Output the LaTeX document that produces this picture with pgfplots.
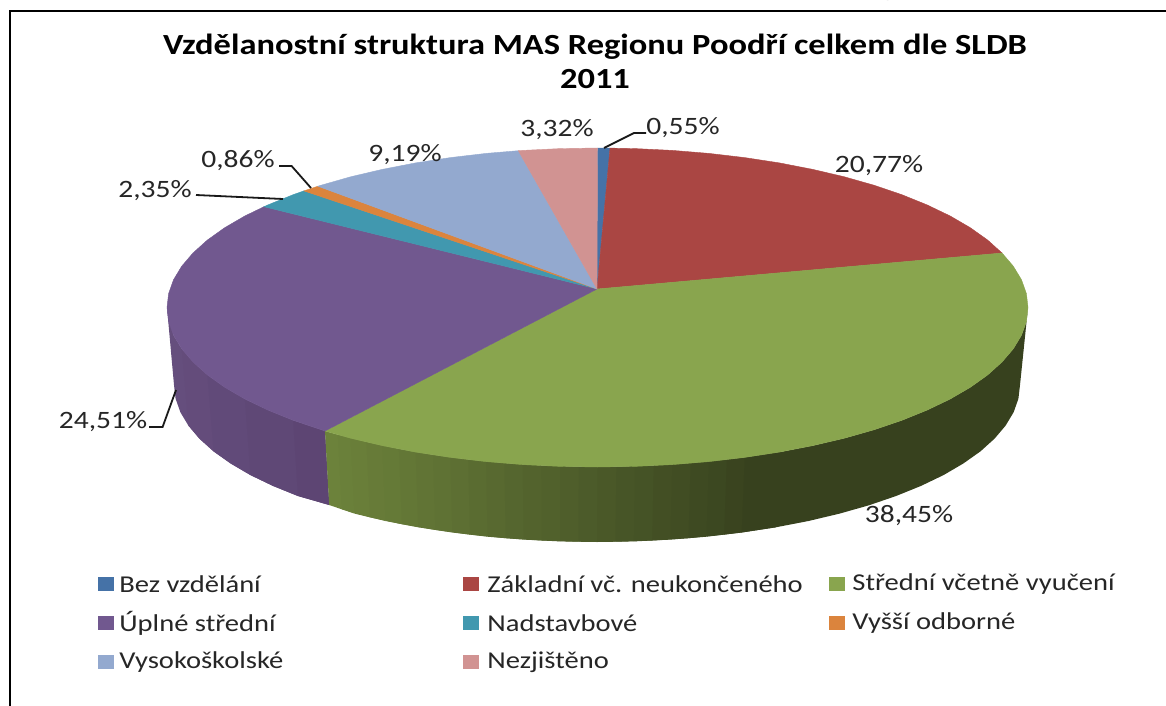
\documentclass[border=0pt]{standalone}
\usepackage{pgfplots}
\usepackage{fontspec}
\setmainfont[FakeStretch=1.18]{Carlito}
\pgfplotsset{compat=1.18}
\definecolor{cA}{HTML}{4572A7}
\definecolor{cB}{HTML}{AA4643}
\definecolor{cC}{HTML}{89A54E}
\definecolor{cD}{HTML}{71588F}
\definecolor{cE}{HTML}{4198AF}
\definecolor{cF}{HTML}{DB843D}
\definecolor{cG}{HTML}{93A9CF}
\definecolor{cH}{HTML}{D19392}
\definecolor{gA}{HTML}{6C823B}
\definecolor{gB}{HTML}{37411E}
\definecolor{pA}{HTML}{654E7D}
\definecolor{pB}{HTML}{5B4471}
\pgfplotsset{sl/.style={fill=#1,draw=#1,line width=0.2pt,mark=none,sharp plot,forget plot},
  st/.style={fill=#1,draw=none,mark=none,sharp plot,forget plot},
  ln/.style={draw=black!90,line width=0.9pt,mark=none,sharp plot,forget plot}}
\begin{document}
\begin{tikzpicture}
\path[use as bounding box] (0,0) rectangle (583pt,353pt);
\clip (0,0) rectangle (583pt,353pt);
\begin{axis}[scale only axis,width=583pt,height=353pt,at={(0,0)},anchor=south west,xmin=0,xmax=1166,ymin=0,ymax=706,y dir=reverse,hide axis,enlargelimits=false]
% side: purple
\addplot[st=pA] coordinates {(167.0,307.5)(173.5,335.2)(181.7,348.8)(193.0,362.0)(207.3,374.9)(213.6,451.4)(199.5,438.7)(188.4,425.6)(180.4,412.3)(175.6,398.7)(174.0,385.0)} -- cycle;
\addplot[st=pA!85!pB] coordinates {(181.7,348.8)(193.0,362.0)(207.3,374.9)(224.7,387.3)(244.8,399.0)(250.5,475.1)(230.7,463.5)(213.6,451.4)(199.5,438.7)(188.4,425.6)} -- cycle;
\addplot[st=pA!65!pB] coordinates {(207.3,374.9)(224.7,387.3)(244.8,399.0)(267.7,410.0)(293.1,420.3)(297.9,496.0)(273.0,485.9)(250.5,475.1)(230.7,463.5)(213.6,451.4)} -- cycle;
\addplot[st=pA!40!pB] coordinates {(244.8,399.0)(267.7,410.0)(293.1,420.3)(325.0,431.0)(329.2,505.0)(297.9,496.0)(273.0,485.9)(250.5,475.1)} -- cycle;
\addplot[st=pA!15!pB] coordinates {(293.1,420.3)(325.0,431.0)(329.2,505.0)(297.9,496.0)} -- cycle;
% side: green
\addplot[st=gA] coordinates {(325.0,431.0)(350.6,438.2)(354.4,513.6)(329.2,505.0)} -- cycle;
\addplot[st=gA!97!gB] coordinates {(337.8,434.6)(366.4,441.9)(370.0,517.3)(341.8,509.3)} -- cycle;
\addplot[st=gA!94!gB] coordinates {(350.6,438.2)(382.2,445.6)(385.5,521.0)(354.4,513.6)} -- cycle;
\addplot[st=gA!90!gB] coordinates {(366.4,441.9)(398.9,448.9)(401.9,524.2)(370.0,517.3)} -- cycle;
\addplot[st=gA!87!gB] coordinates {(382.2,445.6)(415.6,452.1)(418.2,527.3)(385.5,521.0)} -- cycle;
\addplot[st=gA!83!gB] coordinates {(398.9,448.9)(433.0,454.8)(435.3,529.9)(401.9,524.2)} -- cycle;
\addplot[st=gA!79!gB] coordinates {(415.6,452.1)(450.3,457.4)(452.3,532.5)(418.2,527.3)} -- cycle;
\addplot[st=gA!75!gB] coordinates {(433.0,454.8)(468.2,459.5)(469.9,534.6)(435.3,529.9)} -- cycle;
\addplot[st=gA!71!gB] coordinates {(450.3,457.4)(486.1,461.6)(487.5,536.7)(452.3,532.5)} -- cycle;
\addplot[st=gA!66!gB] coordinates {(468.2,459.5)(504.4,463.1)(505.6,538.2)(469.9,534.6)} -- cycle;
\addplot[st=gA!62!gB] coordinates {(486.1,461.6)(522.7,464.6)(523.6,539.6)(487.5,536.7)} -- cycle;
\addplot[st=gA!57!gB] coordinates {(504.4,463.1)(541.4,465.5)(541.9,540.5)(505.6,538.2)} -- cycle;
\addplot[st=gA!53!gB] coordinates {(522.7,464.6)(560.0,466.4)(560.1,541.4)(523.6,539.6)} -- cycle;
\addplot[st=gA!49!gB] coordinates {(541.4,465.5)(578.8,466.7)(578.6,541.7)(541.9,540.5)} -- cycle;
\addplot[st=gA!45!gB] coordinates {(560.0,466.4)(597.5,467.0)(597.0,542.0)(560.1,541.4)} -- cycle;
\addplot[st=gA!40!gB] coordinates {(578.8,466.7)(616.3,466.7)(615.5,541.7)(578.6,541.7)} -- cycle;
\addplot[st=gA!36!gB] coordinates {(597.5,467.0)(635.0,466.4)(633.9,541.4)(597.0,542.0)} -- cycle;
\addplot[st=gA!31!gB] coordinates {(616.3,466.7)(653.7,465.5)(652.2,540.5)(615.5,541.7)} -- cycle;
\addplot[st=gA!27!gB] coordinates {(635.0,466.4)(672.3,464.6)(670.4,539.6)(633.9,541.4)} -- cycle;
\addplot[st=gA!22!gB] coordinates {(653.7,465.5)(690.6,463.1)(688.5,538.2)(652.2,540.5)} -- cycle;
\addplot[st=gA!18!gB] coordinates {(672.3,464.6)(708.9,461.6)(706.5,536.7)(670.4,539.6)} -- cycle;
\addplot[st=gA!14!gB] coordinates {(690.6,463.1)(726.8,459.5)(724.1,534.6)(688.5,538.2)} -- cycle;
\addplot[st=gA!10!gB] coordinates {(708.9,461.6)(744.7,457.4)(741.7,532.5)(706.5,536.7)} -- cycle;
\addplot[st=gA!5!gB] coordinates {(726.8,459.5)(744.7,457.4)(779.4,452.1)(775.8,527.3)(741.7,532.5)(724.1,534.6)} -- cycle;
\addplot[st=gB] coordinates {(744.7,457.4)(779.4,452.1)(812.8,445.6)(844.4,438.2)(874.2,429.7)(901.9,420.3)(927.3,410.0)(950.2,399.0)(970.3,387.3)(987.7,374.9)(1002.0,362.0)(1013.3,348.8)(1021.5,335.2)(1026.4,321.4)(1028.0,307.5)(1020.0,385.0)(1018.4,398.7)(1013.6,412.3)(1005.6,425.6)(994.5,438.7)(980.4,451.4)(963.3,463.5)(943.5,475.1)(921.0,485.9)(896.1,496.0)(868.9,505.3)(839.6,513.6)(808.5,521.0)(775.8,527.3)(741.7,532.5)} -- cycle;
% top surface
\addplot[sl=cA] coordinates {(597,289)(597.5,148.0)(610.0,148.1)} -- cycle;
\addplot[sl=cB] coordinates {(597,289)(610.0,148.1)(635.0,148.6)(672.3,150.4)(708.9,153.4)(744.7,157.6)(779.4,162.9)(812.8,169.4)(844.4,176.8)(874.2,185.3)(901.9,194.7)(927.3,205.0)(950.2,216.0)(970.3,227.7)(987.7,240.1)(1002.0,253.0)} -- cycle;
\addplot[sl=cC] coordinates {(597,289)(1002.0,253.0)(1013.3,266.2)(1021.5,279.8)(1026.4,293.6)(1028.0,307.5)(1026.4,321.4)(1021.5,335.2)(1013.3,348.8)(1002.0,362.0)(987.7,374.9)(970.3,387.3)(950.2,399.0)(927.3,410.0)(901.9,420.3)(874.2,429.7)(844.4,438.2)(812.8,445.6)(779.4,452.1)(744.7,457.4)(708.9,461.6)(672.3,464.6)(635.0,466.4)(597.5,467.0)(560.0,466.4)(522.7,464.6)(486.1,461.6)(450.3,457.4)(415.6,452.1)(382.2,445.6)(350.6,438.2)(325.0,431.0)} -- cycle;
\addplot[sl=cD] coordinates {(597,289)(325.0,431.0)(293.1,420.3)(267.7,410.0)(244.8,399.0)(224.7,387.3)(207.3,374.9)(193.0,362.0)(181.7,348.8)(173.5,335.2)(168.6,321.4)(167.0,307.5)(168.6,293.6)(173.5,279.8)(181.7,266.2)(193.0,253.0)(207.3,240.1)(224.7,227.7)(244.8,216.0)(264.0,206.7)} -- cycle;
\addplot[sl=cE] coordinates {(597,289)(264.0,206.7)(267.7,205.0)(293.1,194.7)(303.9,190.9)} -- cycle;
\addplot[sl=cF] coordinates {(597,289)(303.9,190.9)(317.9,186.2)} -- cycle;
\addplot[sl=cG] coordinates {(597,289)(317.9,186.2)(320.8,185.3)(350.6,176.8)(382.2,169.4)(415.6,162.9)(450.3,157.6)(486.1,153.4)(518.3,150.7)} -- cycle;
\addplot[sl=cH] coordinates {(597,289)(518.3,150.7)(522.7,150.4)(560.0,148.6)(597.5,148.0)} -- cycle;
% frame
\addplot[draw=black,line width=1pt,mark=none,sharp plot,forget plot] coordinates {(9.5,706)(9.5,11)(1166,11)};
% leader lines
\addplot[ln] coordinates {(604,148)(634,133)(646,133)};
\addplot[ln] coordinates {(311,188)(291.6,166)(279,166)};
\addplot[ln] coordinates {(283,199)(196,195)};
\addplot[ln] coordinates {(176,390)(162.6,427)(149,427)};
% legend swatches
\addplot[sl=cA] coordinates {(98,577)(113,577)(113,590)(98,590)} -- cycle;
\addplot[sl=cB] coordinates {(463,577)(478,577)(478,590)(463,590)} -- cycle;
\addplot[sl=cC] coordinates {(829,577)(844,577)(844,590)(829,590)} -- cycle;
\addplot[sl=cD] coordinates {(98,616)(113,616)(113,629)(98,629)} -- cycle;
\addplot[sl=cE] coordinates {(463,616)(478,616)(478,629)(463,629)} -- cycle;
\addplot[sl=cF] coordinates {(829,616)(844,616)(844,629)(829,629)} -- cycle;
\addplot[sl=cG] coordinates {(98,655)(113,655)(113,668)(98,668)} -- cycle;
\addplot[sl=cH] coordinates {(463,655)(478,655)(478,668)(463,668)} -- cycle;
% title
\node[font=\fontsize{14.6}{17}\selectfont\bfseries,anchor=center,align=center] at (595,47) {Vzdělanostní struktura MAS Regionu Poodří celkem dle SLDB};
\node[font=\fontsize{14.6}{17}\selectfont\bfseries,anchor=center] at (595,79) {2011};
% value labels
\foreach \x/\y/\t in {557/130/{3,32\%},683/128/{0,55\%},879/166/{20,77\%},405/155/{9,19\%},238/161/{0,86\%},155/191/{2,35\%},103/422/{24,51\%},909/515.5/{38,45\%}}{
  \edef\tmp{\noexpand\node[font=\noexpand\fontsize{12.5}{14}\noexpand\selectfont,text=black!85] at (axis cs:\x,\y) {\unexpanded\expandafter{\t}};}\tmp
}
% legend text
\foreach \x/\y/\t in {119/584/{Bez vzdělání},487/584/{Základní vč. neukončeného},852/584/{Střední včetně vyučení},119/623/{Úplné střední},487/623/{Nadstavbové},852/623/{Vyšší odborné},119/662/{Vysokoškolské},487/662/{Nezjištěno}}{
  \edef\tmp{\noexpand\node[font=\noexpand\fontsize{12.1}{13}\noexpand\selectfont,text=black!85,anchor=west,inner xsep=0pt] at (axis cs:\x,\y) {\unexpanded\expandafter{\t}};}\tmp
}
\node[font=\fontsize{12}{14}\selectfont\bfseries,anchor=base] at (888,-3) {g};
\end{axis}
\end{tikzpicture}
\end{document}
